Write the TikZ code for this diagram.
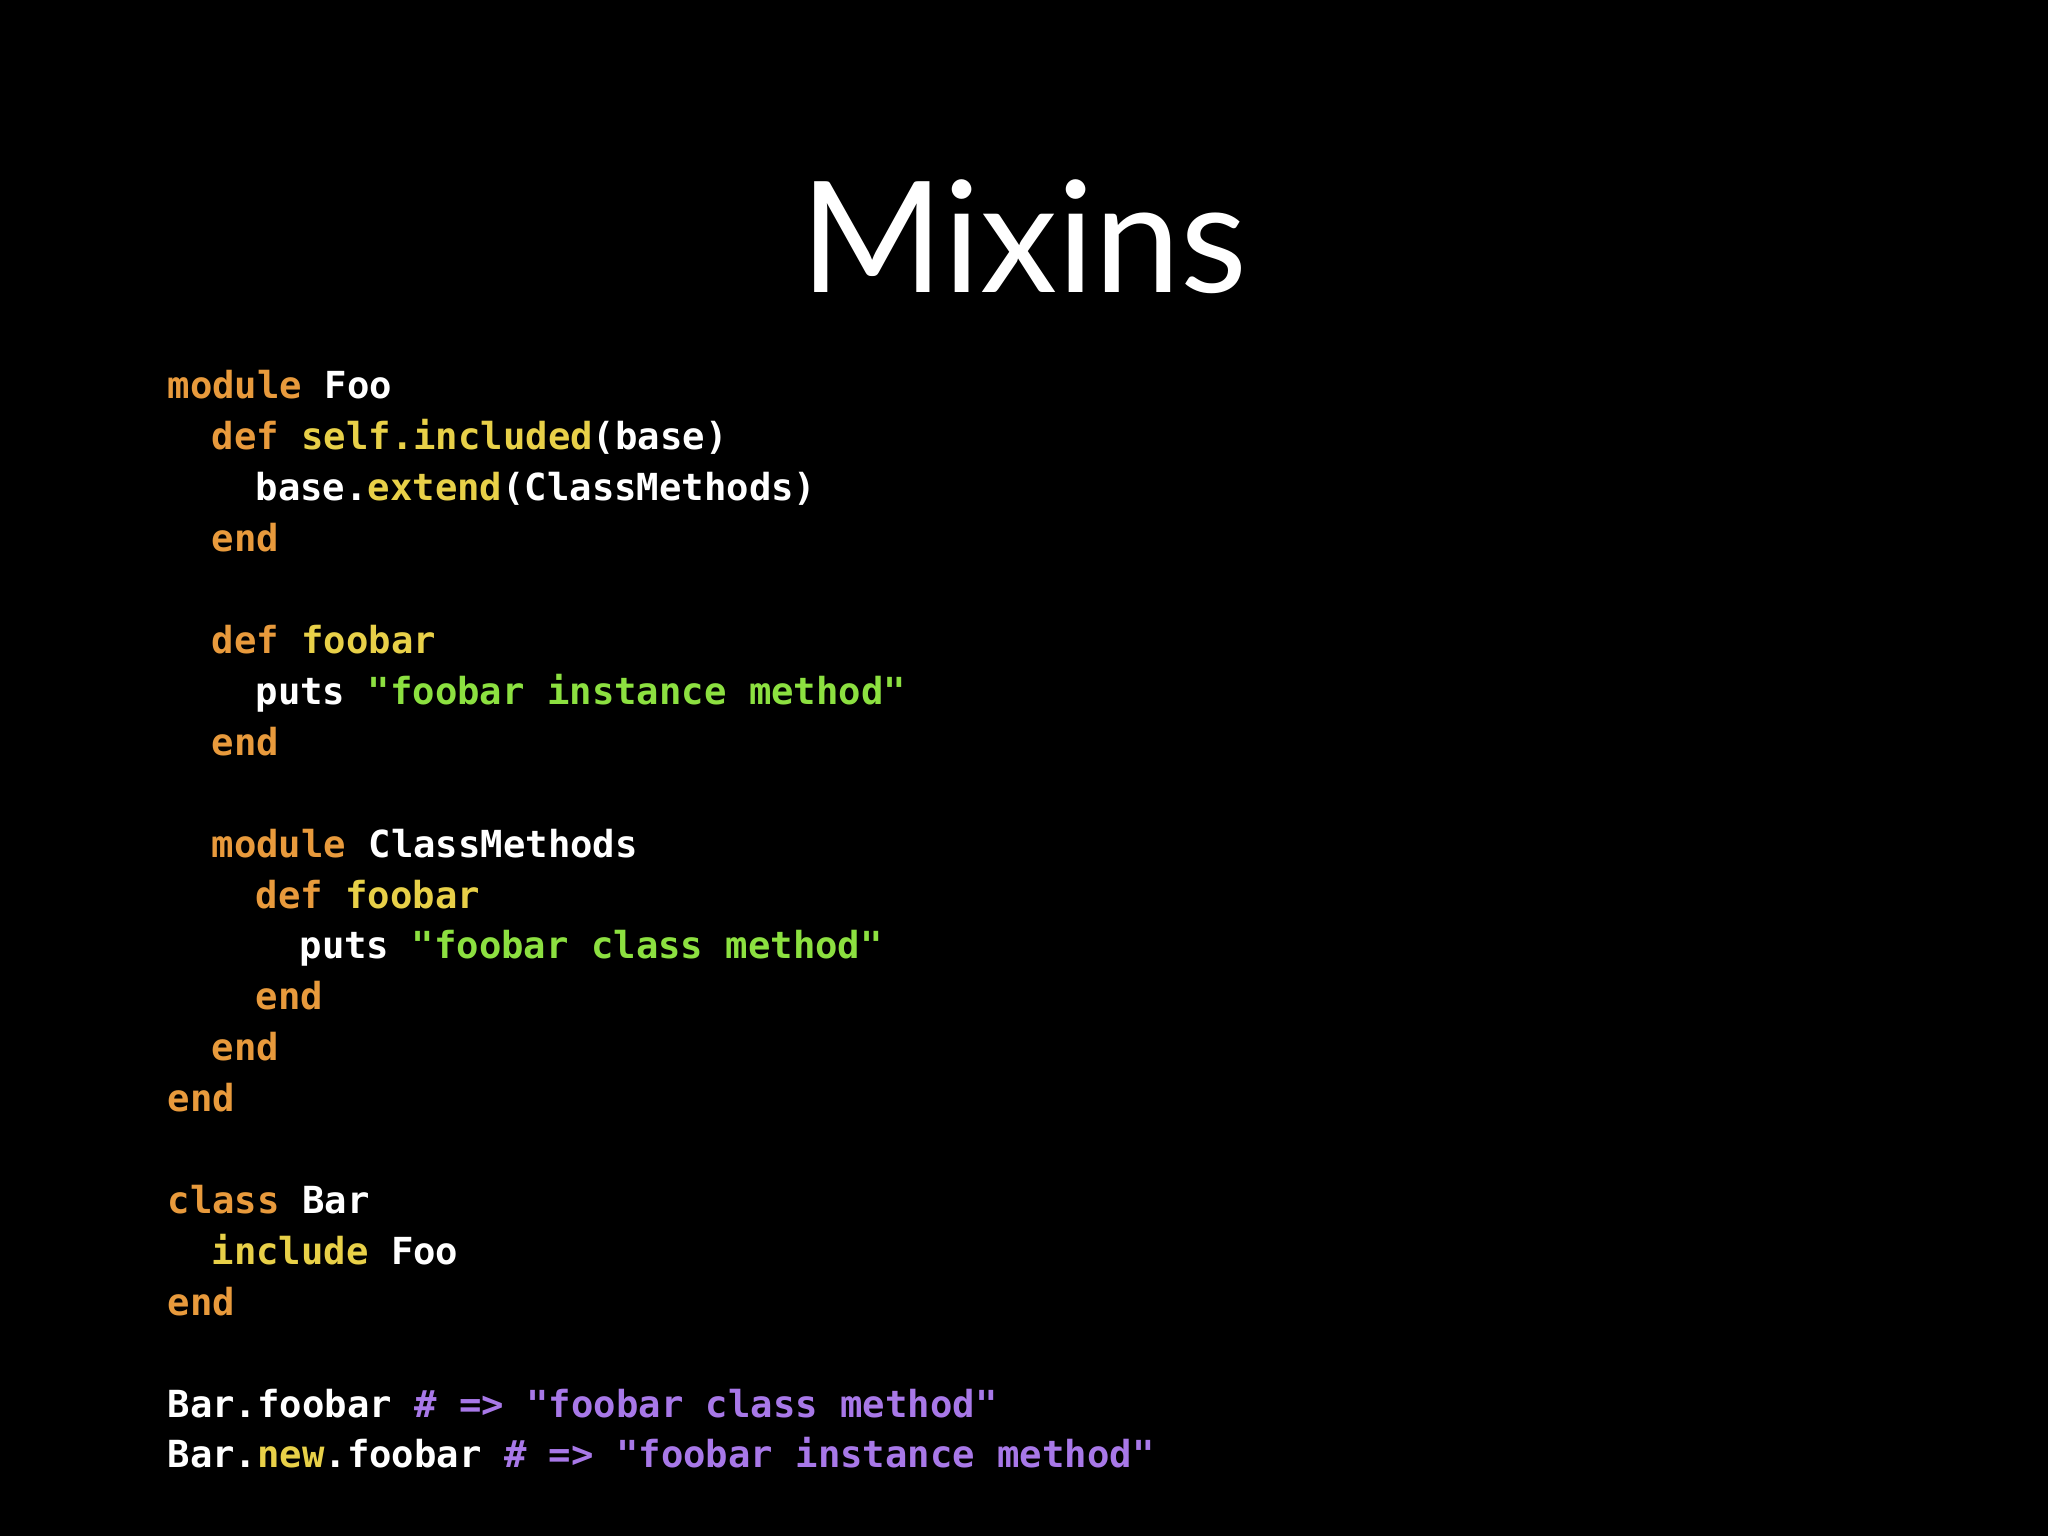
\documentclass[tikz,border=0pt]{standalone}
\usepackage{fontspec}
\setmainfont{Lato}
\setmonofont{DejaVu Sans Mono}
\definecolor{kw}{HTML}{E89A3C}
\definecolor{fn}{HTML}{E8D048}
\definecolor{st}{HTML}{8CE040}
\definecolor{cm}{HTML}{A878E8}
\newcommand{\K}[1]{\textcolor{kw}{#1}}
\newcommand{\F}[1]{\textcolor{fn}{#1}}
\newcommand{\Sg}[1]{\textcolor{st}{#1}}
\newcommand{\Cm}[1]{\textcolor{cm}{#1}}
\begin{document}
\begin{tikzpicture}[x=1cm,y=-1cm]
\tikzset{code/.style={anchor=base west,inner sep=0pt,text=white,font=\ttfamily\bfseries\fontsize{10.6pt}{12pt}\selectfont}}
\fill[black] (0,0) rectangle (20.48,15.36);
\useasboundingbox (0,0) rectangle (20.48,15.36);
\node[anchor=base,text=white,font=\fontsize{44pt}{50pt}\selectfont,inner sep=0pt] (title) at (10.24,2.93) {Mixins};
\def\L#1#2#3{\node[code] (l#1) at ({1.67+0.440*#2},{3.99+0.509*#1}) {#3};}
\L{0}{0}{\K{module}\ Foo}
\L{1}{1}{\K{def}\ \F{self.included}(base)}
\L{2}{2}{base.\F{extend}(ClassMethods)}
\L{3}{1}{\K{end}}
\L{5}{1}{\K{def}\ \F{foobar}}
\L{6}{2}{puts\ \Sg{"foobar\ instance\ method"}}
\L{7}{1}{\K{end}}
\L{9}{1}{\K{module}\ ClassMethods}
\L{10}{2}{\K{def}\ \F{foobar}}
\L{11}{3}{puts\ \Sg{"foobar\ class\ method"}}
\L{12}{2}{\K{end}}
\L{13}{1}{\K{end}}
\L{14}{0}{\K{end}}
\L{16}{0}{\K{class}\ Bar}
\L{17}{1}{\F{include}\ Foo}
\L{18}{0}{\K{end}}
\L{20}{0}{Bar.foobar\ \Cm{\#\ =>\ "foobar\ class\ method"}}
\L{21}{0}{Bar.\F{new}.foobar\ \Cm{\#\ =>\ "foobar\ instance\ method"}}
\end{tikzpicture}
\end{document}
